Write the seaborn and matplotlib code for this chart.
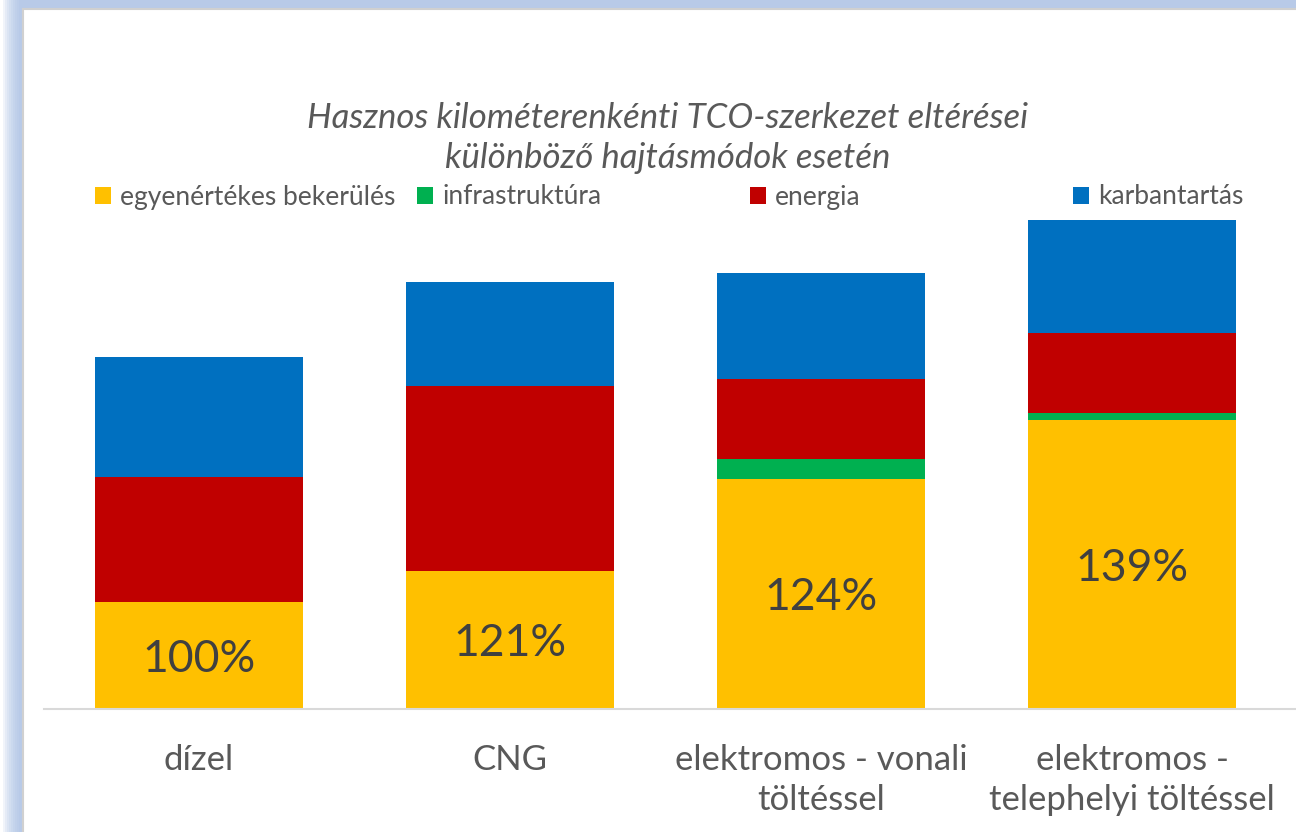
import numpy as np
import pandas as pd
import matplotlib.pyplot as plt
from matplotlib.patches import Patch, Rectangle
import seaborn as sns

sns.set_theme(style="white")
plt.rcParams["font.family"] = ["Lato", "DejaVu Sans"]

# cost components per drive type, in % of the diesel total
categories = ["dízel", "CNG", "elektromos - vonali\ntöltéssel", "elektromos -\ntelephelyi töltéssel"]
egyenertekes = [30.4, 39.2, 65.3, 82.1]
infrastruktura = [0.0, 0.0, 5.7, 2.0]
energia = [35.5, 52.6, 22.7, 22.7]
karbantartas = [34.1, 29.5, 30.1, 32.1]

series_names = ["egyenértékes bekerülés", "infrastruktúra", "energia", "karbantartás"]
colors = ["#FFC000", "#00B050", "#C00000", "#0070C0"]

df = pd.DataFrame({
    "kategoria": categories,
    series_names[0]: egyenertekes,
    series_names[1]: infrastruktura,
    series_names[2]: energia,
    series_names[3]: karbantartas,
})
cum = df[series_names].cumsum(axis=1)
totals = cum[series_names[-1]]

W, H = 1296, 832
fig = plt.figure(figsize=(W / 100, H / 100), dpi=100)

# frame glow + white panel
for i in range(9):
    fig.patches.append(Rectangle(((3 + 2 * i) / W, -0.01), 1.2, 1.02, transform=fig.transFigure,
                                 facecolor="#a9c0e4", alpha=0.16, edgecolor="none", zorder=-20))
fig.patches.append(Rectangle((23 / W, -0.02), 1.2, (H - 9) / H + 0.02, transform=fig.transFigure,
                             facecolor="white", edgecolor="#d0d0d0", linewidth=1.5, zorder=-10))

ax_bottom = (H - 709) / H
ax_top = (H - 200) / H
ax = fig.add_axes([43.5 / W, ax_bottom, 1 - 43.5 / W, ax_top - ax_bottom])
ax.set_facecolor("none")

# stacked bars drawn as overlapping cumulative totals, top layer first
for name, color in reversed(list(zip(series_names, colors))):
    sns.barplot(x=df["kategoria"], y=cum[name], color=color, width=0.67,
                saturation=1, ax=ax, linewidth=0, zorder=2)

for i, (y, t) in enumerate(zip(egyenertekes, totals)):
    ax.text(i, y / 2 - 1.0, f"{round(t)}%", ha="center", va="center",
            fontsize=32, color="#404040", zorder=5)

ax.set_xlim(-0.5, -0.5 + (W - 43.5) / 311)
ax.set_ylim(0, (709 - 200) / 3.52)
ax.set_xlabel("")
ax.set_ylabel("")
ax.set_yticks([])
ax.tick_params(axis="x", length=0, pad=25, labelsize=25, labelcolor="#595959")
for lbl in ax.get_xticklabels():
    lbl.set_linespacing(1.3)
for s in ["top", "right", "left"]:
    ax.spines[s].set_visible(False)
ax.spines["bottom"].set_color("#d9d9d9")
ax.spines["bottom"].set_linewidth(1.5)

fig.text(668 / W, 1 - 138 / H,
         "Hasznos kilométerenkénti TCO-szerkezet eltérései\nkülönböző hajtásmódok esetén",
         ha="center", va="center", fontsize=25, style="italic", color="#595959", linespacing=1.3)

legend_x = [95, 417, 750, 1073]
for name, color, lx in zip(series_names, colors, legend_x):
    fig.legend(handles=[Patch(facecolor=color, edgecolor="none")], labels=[name],
               loc="center left", bbox_to_anchor=(lx / W, 1 - 197 / H),
               frameon=False, fontsize=19, labelcolor="#595959",
               handlelength=0.6, handleheight=0.6, handletextpad=0.35,
               borderpad=0, borderaxespad=0)

fig.savefig("out.png", dpi=100)
